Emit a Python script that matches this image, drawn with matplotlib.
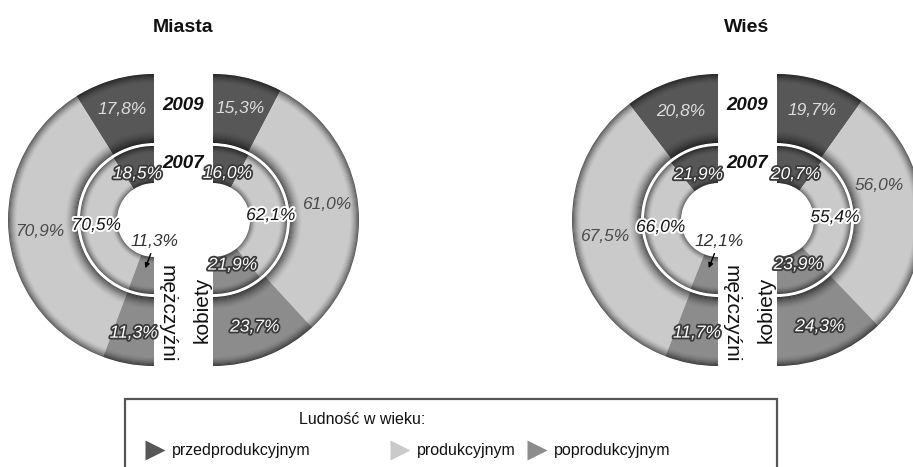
import numpy as np
import matplotlib.pyplot as plt
from matplotlib.patches import Wedge, Rectangle
import matplotlib.patheffects as pe

plt.rcParams['font.family'] = ['Liberation Sans', 'DejaVu Sans']

# data (percent shares by age group)
categories = ['przedprodukcyjnym', 'produkcyjnym', 'poprodukcyjnym']
miasta_m_2009 = [17.8, 70.9, 11.3]
miasta_k_2009 = [15.3, 61.0, 23.7]
miasta_m_2007 = [18.5, 70.5, 11.3]
miasta_k_2007 = [16.0, 62.1, 21.9]
wies_m_2009 = [20.8, 67.5, 11.7]
wies_k_2009 = [19.7, 56.0, 24.3]
wies_m_2007 = [21.9, 66.0, 12.1]
wies_k_2007 = [20.7, 55.4, 23.9]
titles = ['Miasta', 'Wieś']
years = ['2009', '2007']

colors = ['#575757', '#cacaca', '#8c8c8c']

W, H = 913, 467
R_OUT, R_OUT_IN = 146, 77
R_IN_OUT, R_HOLE = 74, 37
HALF_GAP = 29.5
CY = 220

fig = plt.figure(figsize=(W / 100, H / 100), dpi=100)
ax = fig.add_axes([0, 0, 1, 1])
ax.set_xlim(0, W)
ax.set_ylim(0, H)
ax.axis('off')

light = dict(color='#dedede')
darkgray = dict(color='#4a4a4a')
white_out = dict(color='white', path_effects=[pe.withStroke(linewidth=2.6, foreground='#3a3a3a')])
dark_out = dict(color='#151515', path_effects=[pe.withStroke(linewidth=2.8, foreground='white')])
outer_styles = [light, darkgray, white_out]
inner_styles = [white_out, dark_out, white_out]


def fmt(v):
    return f'{v:.1f}'.replace('.', ',') + '%'


def shade(cx, r_in, r_out, t1, t2, a_out, a_in, n_out, n_in):
    for i in range(n_out):
        k = (1 - i / n_out) ** 1.6
        ax.add_patch(Wedge((cx, H - CY), r_out - i, t1, t2, width=1,
                           fc='black', alpha=a_out * k, lw=0))
    for i in range(n_in):
        k = (1 - i / n_in) ** 1.6
        ax.add_patch(Wedge((cx, H - CY), r_in + i + 1, t1, t2, width=1,
                           fc='black', alpha=a_in * k, lw=0))


def half_ring(cx, r_in, r_out, values, side):
    total = sum(values)
    start = 90
    mids = []
    for v, col in zip(values, colors):
        span = v / total * 180
        if side == 'left':
            t1, t2 = start, start + span
            start += span
        else:
            t1, t2 = start - span, start
            start -= span
        ax.add_patch(Wedge((cx, H - CY), r_out, t1, t2, width=r_out - r_in,
                           fc=col, ec='none'))
        mids.append((t1 + t2) / 2)
    return mids


def label(cx, rx, ry, ang, txt, style):
    a = np.radians(ang)
    x = cx + rx * np.cos(a)
    y = H - CY + ry * np.sin(a)
    if x > W - 34:
        # keep the label inside the picture, lift it along the ring
        x, y = W - 34, y + 26
    ax.text(x, y, txt, ha='center', va='center', fontsize=12.5,
            style='italic', **style)


panels = [
    (titles[0], 183.5, miasta_m_2009, miasta_k_2009, miasta_m_2007, miasta_k_2007),
    (titles[1], 747.5, wies_m_2009, wies_k_2009, wies_m_2007, wies_k_2007),
]

for title, gx, m09, k09, m07, k07 in panels:
    lx, rx = gx - HALF_GAP, gx + HALF_GAP
    for cx, side, v09, v07 in [(lx, 'left', m09, m07), (rx, 'right', k09, k07)]:
        t1, t2 = (90, 270) if side == 'left' else (-90, 90)
        mids_o = half_ring(cx, R_OUT_IN, R_OUT, v09, side)
        mids_i = half_ring(cx, R_HOLE, R_IN_OUT, v07, side)
        shade(cx, R_OUT_IN, R_OUT, t1, t2, 0.55, 0.6, 9, 12)
        shade(cx, R_HOLE, R_IN_OUT, t1, t2, 0.5, 0.45, 7, 6)
        for i, (v, ang) in enumerate(zip(v09, mids_o)):
            label(cx, 115, 115, ang, fmt(v), outer_styles[i])
        for i, (v, ang) in enumerate(zip(v07, mids_i)):
            if side == 'left' and i == 2:
                a = np.radians(ang)
                ax.annotate(fmt(v), xy=(cx + 49 * np.cos(a), H - CY + 49 * np.sin(a)),
                            xytext=(cx + 1, H - CY - 22), ha='center', va='center',
                            fontsize=12.5, style='italic', color='#333333',
                            arrowprops=dict(arrowstyle='-|>', color='black', lw=1,
                                            mutation_scale=7, shrinkA=1, shrinkB=0))
            else:
                label(cx, 58, 48, ang, fmt(v), inner_styles[i])

    ax.text(gx, H - 106, years[0], ha='center', va='center', fontsize=13.5,
            weight='bold', style='italic', color='#111111')
    ax.text(gx, H - 163, years[1], ha='center', va='center', fontsize=13.5,
            weight='bold', style='italic', color='#111111')
    ax.text(gx - 16.5, H - 314, 'mężczyźni', ha='center', va='center',
            rotation=-90, fontsize=15, color='#111111')
    ax.text(gx + 18.5, H - 310, 'kobiety', ha='center', va='center',
            rotation=90, fontsize=15, color='#111111')
    ax.text(gx - 0.5, H - 27, title, ha='center', va='center', fontsize=14,
            weight='bold', color='#111111')

# legend
ax.add_patch(Rectangle((125, -5), 652, H - 399 + 5, fill=False, ec='#555555', lw=1.6))
ax.text(362, H - 420, 'Ludność w wieku:', ha='center', va='center', fontsize=11.5,
        color='#111111')
leg_x = [155, 400, 537]
for x, col, name in zip(leg_x, colors, categories):
    ax.plot([x], [H - 450], marker='>', markersize=15, color=col, mec='none')
    ax.text(x + 17, H - 450, name, ha='left', va='center', fontsize=11.5,
            color='#111111')

fig.savefig('out.png', dpi=100)
